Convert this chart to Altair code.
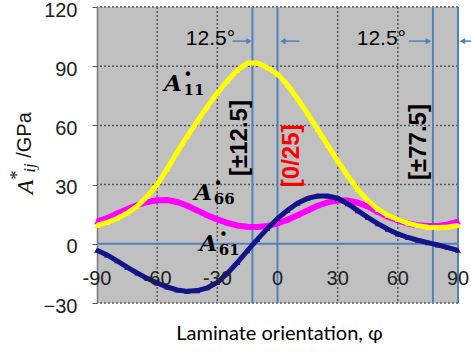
import altair as alt
import pandas as pd

# Laminate orientation (degrees) and normalised stiffness terms (GPa)
phi = [-90, -85, -80, -75, -70, -65, -60, -55, -50, -45, -40, -35, -30, -25, -20,
       -15, -10, -5, 0, 5, 10, 15, 20, 25, 30, 35, 40, 45, 50, 55, 60, 65, 70, 75,
       80, 85, 90]
a11 = [9.3, 10.8, 12.8, 15.5, 19.0, 24.0, 30.0, 38.0, 46.5, 54.5, 62.0, 69.5, 76.5,
       82.5, 88.0, 91.6, 91.6, 89.3, 86.0, 80.5, 73.5, 66.0, 58.0, 50.0, 42.0, 34.5,
       27.5, 22.0, 17.5, 14.5, 12.3, 10.5, 9.2, 8.4, 8.2, 8.5, 9.3]
a66 = [11.2, 13.0, 15.3, 17.5, 19.6, 21.2, 22.1, 22.2, 21.2, 19.3, 16.9, 14.5, 12.4,
       10.6, 9.3, 8.6, 8.5, 9.0, 10.3, 12.2, 14.5, 16.9, 19.3, 21.0, 21.9, 21.9, 20.8,
       19.0, 16.2, 13.7, 11.8, 10.3, 9.4, 9.0, 9.0, 9.8, 11.2]
a61 = [-3.3, -5.6, -8.6, -11.8, -14.8, -17.5, -19.9, -21.9, -23.4, -24.1, -23.7, -22.3,
       -19.6, -15.0, -9.5, -3.5, 2.2, 7.8, 12.8, 17.0, 20.6, 23.0, 24.2, 24.2, 23.1,
       20.3, 16.8, 13.4, 10.2, 7.4, 5.0, 3.2, 1.8, 0.6, -0.6, -1.9, -3.3]

x_tick_values = [-90, -60, -30, 0, 30, 60, 90]
y_tick_values = [-30, 0, 30, 60, 90, 120]
grid_x = [-60, -30, 30, 60]
grid_y = [-30, 30, 60, 90, 120]
ply_angles = [-12.5, 0, 77.5, 90]

BLUE = "#4f81bd"
GRID = "#555555"

curves = pd.DataFrame({
    "phi": phi * 3,
    "value": a11 + a66 + a61,
    "name": ["A11"] * len(phi) + ["A66"] * len(phi) + ["A61"] * len(phi),
})

xscale = alt.Scale(domain=[-90, 90], nice=False, zero=False)
yscale = alt.Scale(domain=[-30, 120], nice=False, zero=False)

x_axis = alt.Axis(
    labels=False, ticks=False, domain=False, grid=False,
    title="Laminate orientation, φ", titleFont="Lato", titleFontSize=20,
    titleFontWeight="normal", titleColor="#000", titleX=182, titleY=36,
    titleAlign="center", titleBaseline="alphabetic")
y_axis = alt.Axis(
    values=y_tick_values, labelFont="Liberation Sans", labelFontSize=20,
    labelColor="#222", labelPadding=15, labelOffset=3, tickSize=5, tickColor=GRID,
    domainColor="#777", domainWidth=1.5, grid=False, title="")


def xenc(field="phi"):
    return alt.X(f"{field}:Q", scale=xscale, axis=x_axis, title="Laminate orientation, φ")


def yenc(field="value"):
    return alt.Y(f"{field}:Q", scale=yscale, axis=y_axis, title="")


# dotted grid
hgrid = alt.Chart(pd.DataFrame({"value": grid_y})).mark_rule(
    color=GRID, strokeDash=[2, 2], strokeWidth=1.5
).encode(y=yenc())
vgrid = alt.Chart(pd.DataFrame({"phi": grid_x})).mark_rule(
    color=GRID, strokeDash=[2, 2], strokeWidth=1.5
).encode(x=xenc())

# zero line and ply-angle markers
zero_line = alt.Chart(pd.DataFrame({"value": [0]})).mark_rule(
    color=BLUE, strokeWidth=2
).encode(y=yenc())
ply_lines = alt.Chart(pd.DataFrame({"phi": ply_angles})).mark_rule(
    color=BLUE, strokeWidth=2
).encode(x=xenc())

series_colors = {"A66": "#ff00ff", "A11": "#ffff00", "A61": "#14148a"}
series_widths = {"A66": 6, "A11": 5, "A61": 5}
series_layers = []
for name in ["A66", "A11", "A61"]:
    series_layers.append(
        alt.Chart(curves).transform_filter(alt.datum.name == name).mark_line(
            color=series_colors[name], strokeWidth=series_widths[name]
        ).encode(x=xenc(), y=yenc())
    )
    series_layers.append(
        alt.Chart(curves).transform_filter(alt.datum.name == name).mark_point(
            shape="triangle-up", filled=True, color=series_colors[name], size=35, opacity=1
        ).encode(x=xenc(), y=yenc())
    )

# x tick labels drawn inside the plot
xlabels = alt.Chart(pd.DataFrame({"phi": x_tick_values, "value": [-17.6] * 7,
                                  "text": [str(v) for v in x_tick_values]})).mark_text(
    font="Liberation Sans", fontSize=20, color="#222", baseline="middle", align="center"
).encode(x=xenc(), y=yenc(), text="text:N")

# layup labels
layups = pd.DataFrame({"phi": [-18.9, 7.0, 70.8], "value": [53.6, 44.6, 51.6],
                       "text": ["[±12.5]", "[0/25]", "[±77.5]"],
                       "color": ["black", "red", "black"]})
layup_text = alt.Chart(layups).mark_text(
    angle=270, font="Liberation Sans", fontSize=24, fontWeight="bold",
    align="center", baseline="middle"
).encode(x=xenc(), y=yenc(), text="text:N", color=alt.Color("color:N", scale=None))

# 12.5° spans with arrows
deg_text = alt.Chart(pd.DataFrame({"phi": [-33.4, 51.8], "value": [103.6, 103.6],
                                   "text": ["12.5°", "12.5°"]})).mark_text(
    font="Liberation Sans", fontSize=21, color="black", align="center", baseline="middle"
).encode(x=xenc(), y=yenc(), text="text:N")

arrows = pd.DataFrame({"start": [-22.5, 11.0, 65.5, 96.5],
                       "end": [-14.2, 2.7, 75.3, 92.2],
                       "value": [102.7] * 4,
                       "shape": ["triangle-right", "triangle-left",
                                 "triangle-right", "triangle-left"]})
arrow_shafts = alt.Chart(arrows).mark_rule(color=BLUE, strokeWidth=1.5).encode(
    x=xenc("start"), x2="end:Q", y=yenc())
arrow_heads = alt.Chart(arrows).mark_point(filled=True, color=BLUE, size=40, opacity=1).encode(
    x=xenc("end"), y=yenc(), shape=alt.Shape("shape:N", scale=None))

# curve labels A*_ij
tags = pd.DataFrame({"phi": [-52.1, -37.0, -34.5], "value": [80.8, 25.7, -0.1],
                     "sub": ["11", "66", "61"]})
tag_a = alt.Chart(tags).mark_text(
    text="A", font="DejaVu Serif", fontSize=23, fontWeight="bold", fontStyle="italic",
    color="black", align="center", baseline="middle"
).encode(x=xenc(), y=yenc())
tag_sub = alt.Chart(tags).mark_text(
    font="DejaVu Serif", fontSize=15, fontWeight="bold", color="black",
    align="center", baseline="middle", dx=21, dy=6
).encode(x=xenc(), y=yenc(), text="sub:N")
tag_dot = alt.Chart(tags).mark_text(
    text="•", font="DejaVu Sans", fontSize=15, color="black",
    align="center", baseline="middle", dx=15, dy=-9
).encode(x=xenc(), y=yenc())

# y-axis title A*_ij /GPa built from pieces
one = alt.Data(values=[{}])
ytitle = [
    alt.Chart(one).mark_text(text="A", font="Liberation Serif", fontStyle="italic",
                             fontSize=24, angle=270, align="center", baseline="middle",
                             color="#111").encode(x=alt.value(-71), y=alt.value(180)),
    alt.Chart(one).mark_text(text="*", font="Liberation Serif", fontSize=19, angle=270,
                             align="center", baseline="middle", color="#111"
                             ).encode(x=alt.value(-80), y=alt.value(168)),
    alt.Chart(one).mark_text(text="ij", font="Liberation Serif", fontStyle="italic",
                             fontSize=17, angle=270, align="center", baseline="middle",
                             color="#111").encode(x=alt.value(-67), y=alt.value(161)),
    alt.Chart(one).mark_text(text="/GPa", font="Liberation Sans", fontSize=20, angle=270,
                             align="center", baseline="middle", color="#111"
                             ).encode(x=alt.value(-72), y=alt.value(128)),
]

chart = alt.layer(
    hgrid, vgrid, zero_line, ply_lines, *series_layers, xlabels, layup_text,
    deg_text, arrow_shafts, arrow_heads, tag_a, tag_sub, tag_dot, *ytitle
).properties(
    width=361, height=296,
    background="white",
    autosize=alt.AutoSizeParams(type="none"),
    padding={"left": 97, "top": 7, "right": 13, "bottom": 49},
).configure_view(fill="#c0c0c0", strokeWidth=0)

chart.save("out.html", embed_options={"renderer": "svg", "actions": False})
